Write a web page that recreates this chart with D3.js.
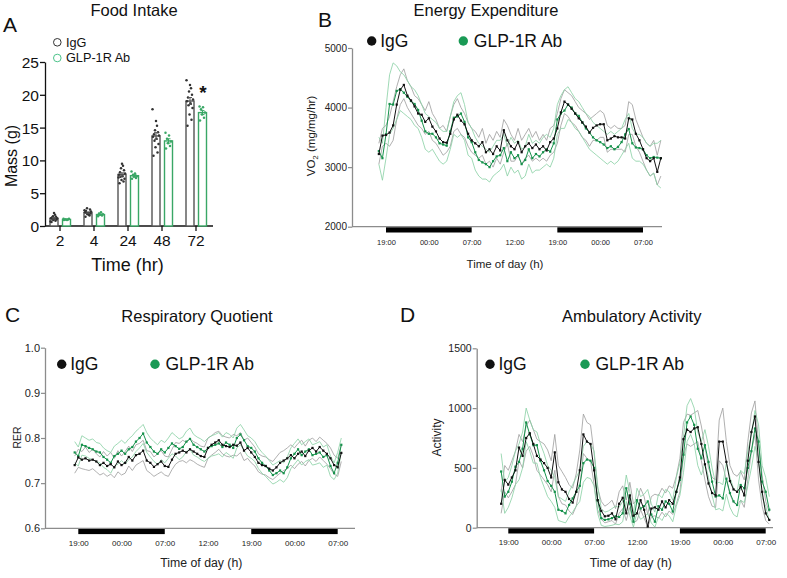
<!DOCTYPE html>
<html><head><meta charset="utf-8">
<script src="https://cdn.jsdelivr.net/npm/d3@7"></script>
<style>body{margin:0;background:#fff} svg{display:block} text{font-family:"Liberation Sans",Arial,sans-serif}</style>
</head><body>
<svg id="c" width="787" height="578"></svg>
<script>
// ---------- Panel A data ----------
const foodTimes = ["2","4","24","48","72"];
const foodIgG = [
  [0.6,0.8,0.9,1.0,1.0,1.1,1.2,1.2,1.3,1.4,1.5,1.7,2.0,0.7],
  [1.4,1.6,1.8,1.9,2.0,2.0,2.1,2.2,2.3,2.5,2.7,1.7,1.9,2.4],
  [6.5,6.8,7.0,7.2,7.5,7.6,7.8,8.0,8.2,8.5,8.8,9.2,9.5,7.4],
  [10.7,11.2,12.0,12.5,13.0,13.3,13.6,13.8,14.0,14.3,14.6,15.3,16.0,17.8],
  [15.3,16.2,17.0,18.0,18.4,18.7,19.0,19.3,19.6,20.0,20.5,21.0,21.5,22.2]
];
const foodGLP = [
  [0.9,1.0,1.0,1.1,1.0,0.9,1.1],
  [1.5,1.6,1.7,1.8,1.9,2.1,1.6],
  [7.2,7.3,7.5,7.6,7.8,8.0,8.3],
  [11.8,12.2,12.6,12.9,13.3,13.8,14.2],
  [16.1,16.5,17.0,17.3,17.8,18.1,18.2]
];
const massTicks = [0,5,10,15,20,25];

// ---------- time axis ----------
const timeTickHours = [19,25,31,37,43,49,55];
const timeTickLabels = ["19:00","00:00","07:00","12:00","19:00","00:00","07:00"];
const darkPeriods = [[19,31],[43,55]];

// ---------- Panel B: VO2 (every 0.5 h from 18:00) ----------
const vo2Start = 18;
const vo2IgG = [3220,3530,3540,3580,3700,4050,4300,4380,4200,4120,
 4020,3900,3880,3760,3820,3680,3600,3480,3420,3410,
 3560,3800,3880,3780,3720,3560,3450,3400,3350,3420,
 3250,3300,3220,3350,3280,3620,3450,3350,3300,3420,
 3250,3350,3400,3320,3380,3300,3350,3280,3420,3480,
 3650,3920,4100,4050,3980,3900,3820,3750,3680,3580,
 3660,3700,3720,3720,3450,3480,3520,3500,3500,3480,
 3820,3800,3560,3450,3300,3150,3100,3150,2920,3150];
const vo2GLP = [3270,3150,3550,4060,4050,4280,4310,4250,4180,4110,
 4060,3960,3780,3600,3560,3560,3500,3400,3380,3360,
 3600,3830,3850,3900,3760,3500,3420,3250,3120,3080,
 3050,3000,3100,3180,3200,3320,3100,3250,3150,3200,
 3050,3120,3300,3150,3220,3180,3250,3300,3260,3400,
 3800,3900,3950,4050,4000,3900,3860,3750,3650,3580,
 3500,3450,3420,3380,3320,3350,3300,3340,3420,3550,
 3640,3400,3330,3320,3300,3200,3150,3170,3160,3150];
const vo2IgGa = [3400,3650,3700,3850,4100,4350,4550,4650,4450,4350,
 4200,4150,4050,3950,4100,3900,3800,3650,3700,3600,
 3850,4050,4150,4000,3900,3750,3650,3600,3500,3650,
 3400,3550,3450,3600,3500,3800,3700,3550,3450,3650,
 3450,3550,3650,3500,3600,3450,3550,3450,3650,3700,
 3900,4150,4300,4250,4200,4100,4000,3950,3900,3800,
 3850,3900,3950,3900,3700,3650,3700,3650,3650,3700,
 4100,4050,3800,3650,3500,3400,3350,3450,3200,3450];
const vo2IgGb = [3050,3350,3400,3350,3450,3800,4050,4150,4000,3900,
 3800,3700,3650,3550,3600,3450,3400,3300,3200,3250,
 3350,3600,3650,3550,3500,3350,3250,3200,3150,3200,
 3050,3100,3000,3150,3050,3250,3400,3100,3100,3200,
 3050,3150,3200,3100,3150,3100,3150,3100,3200,3250,
 3400,3700,3900,3850,3750,3700,3600,3500,3450,3350,
 3450,3450,3500,3500,3250,3300,3300,3300,3300,3250,
 3550,3550,3350,3250,3100,2950,2850,2900,2700,2850];
const vo2GLPa = [3500,3400,4000,4550,4750,4700,4600,4550,4450,4350,
 4300,4200,4050,3900,3850,3800,3750,3650,3600,3600,
 3850,4100,4200,4250,4050,3750,3650,3500,3400,3350,
 3300,3250,3350,3450,3450,3550,3350,3500,3400,3450,
 3300,3350,3550,3400,3450,3400,3500,3550,3500,3650,
 4050,4200,4300,4350,4250,4150,4100,4000,3900,3850,
 3750,3700,3650,3600,3550,3600,3550,3600,3650,3800,
 3900,3650,3550,3550,3500,3400,3350,3400,3400,3450];
const vo2GLPb = [3050,2780,3150,3550,3650,3800,3950,3900,3850,3800,
 3700,3650,3500,3300,3250,3300,3200,3100,3050,3100,
 3300,3550,3500,3550,3450,3200,3150,2950,2850,2800,
 2800,2750,2850,2900,2950,3050,2850,3000,2900,2950,
 2800,2850,3050,2900,2950,2950,3000,3050,3000,3150,
 3550,3650,3650,3800,3750,3650,3600,3500,3400,3300,
 3250,3200,3150,3100,3050,3100,3050,3100,3200,3300,
 3400,3150,3100,3100,3050,2950,2850,2900,2700,2650];
const vo2Ticks = [2000,3000,4000,5000];

// ---------- Panel C: RER (every 0.5 h from 18:30) ----------
const rerStart = 18.5;
const rerIgG = [.740,.757,.752,.755,.750,.752,.748,.740,.745,.738,
 .742,.735,.748,.740,.745,.758,.750,.762,.765,.772,
 .750,.745,.736,.742,.748,.738,.736,.752,.765,.768,
 .772,.768,.775,.770,.765,.760,.758,.778,.785,.790,
 .795,.785,.782,.780,.785,.783,.790,.772,.778,.768,
 .758,.745,.740,.738,.732,.728,.735,.745,.750,.755,
 .762,.755,.765,.770,.760,.772,.778,.770,.780,.772,
 .765,.755,.740,.735,.767];
const rerGLP = [.768,.760,.785,.782,.778,.775,.770,.768,.758,.752,
 .745,.760,.765,.772,.765,.775,.780,.792,.800,.810,
 .790,.780,.770,.765,.775,.768,.778,.788,.782,.776,
 .780,.792,.798,.785,.780,.775,.770,.778,.782,.785,
 .788,.780,.790,.785,.778,.800,.808,.795,.782,.778,
 .770,.755,.745,.738,.728,.718,.722,.728,.722,.735,
 .755,.765,.775,.762,.770,.775,.762,.765,.768,.758,
 .762,.738,.722,.745,.785];
const rerIgGa = [.760,.775,.770,.780,.768,.775,.765,.758,.770,.760,
 .768,.755,.772,.760,.770,.782,.770,.785,.788,.795,
 .772,.770,.758,.765,.772,.760,.758,.775,.790,.788,
 .795,.790,.798,.792,.788,.782,.780,.800,.805,.812,
 .815,.805,.802,.800,.808,.805,.812,.795,.800,.790,
 .780,.765,.760,.758,.752,.748,.758,.768,.772,.778,
 .785,.778,.788,.795,.782,.795,.800,.792,.802,.795,
 .788,.778,.762,.755,.785];
const rerIgGb = [.722,.735,.732,.730,.728,.732,.725,.718,.722,.715,
 .720,.712,.725,.718,.722,.738,.728,.740,.745,.750,
 .728,.722,.715,.720,.725,.718,.715,.730,.742,.748,
 .750,.745,.752,.748,.742,.738,.735,.755,.762,.768,
 .775,.765,.760,.758,.762,.760,.768,.750,.755,.745,
 .738,.725,.720,.718,.712,.708,.715,.722,.728,.732,
 .740,.732,.742,.748,.738,.750,.755,.748,.758,.750,
 .742,.732,.720,.715,.748];
const rerGLPa = [.792,.780,.805,.800,.795,.798,.790,.788,.778,.772,
 .768,.782,.788,.795,.788,.798,.805,.815,.822,.830,
 .812,.800,.792,.785,.795,.790,.800,.812,.805,.798,
 .802,.815,.822,.808,.802,.798,.792,.800,.805,.808,
 .812,.802,.812,.808,.800,.822,.830,.818,.805,.800,
 .792,.778,.768,.760,.750,.740,.745,.750,.745,.758,
 .778,.788,.798,.785,.792,.798,.785,.788,.792,.780,
 .785,.760,.745,.768,.800];
const rerGLPb = [.745,.738,.762,.760,.755,.752,.748,.745,.735,.730,
 .722,.738,.742,.750,.742,.752,.758,.770,.778,.788,
 .768,.758,.748,.742,.752,.745,.755,.765,.760,.752,
 .758,.770,.775,.762,.758,.752,.748,.755,.760,.762,
 .765,.758,.768,.762,.755,.778,.785,.772,.760,.755,
 .748,.732,.722,.715,.706,.698,.702,.708,.702,.712,
 .732,.742,.752,.740,.748,.752,.740,.742,.745,.735,
 .740,.715,.708,.722,.770];
const rerTicks = [0.6,0.7,0.8,0.9,1.0];

// ---------- Panel D: ambulatory activity (every 0.5 h from 18:00) ----------
const actStart = 18;
const actIgG = [200,400,360,420,480,670,600,750,790,700,
 600,570,540,500,420,630,380,320,300,240,
 210,300,480,780,720,700,480,230,140,95,
 100,120,70,200,250,120,270,100,120,230,
 150,10,160,170,150,220,170,230,200,300,
 420,740,820,800,830,840,700,530,370,290,
 270,720,720,550,390,320,300,340,270,560,
 800,930,550,300,120,65];
const actGLP = [470,260,300,385,510,550,660,880,780,690,
 690,560,480,390,350,300,150,140,120,190,
 245,300,350,540,570,560,500,230,80,65,
 70,80,95,90,120,330,200,50,230,160,
 180,220,110,50,180,150,220,200,135,300,
 400,610,880,930,860,660,580,690,550,385,
 260,270,245,410,290,220,190,357,330,500,
 640,830,720,385,300,150];
const actIgGa = [300,520,480,560,640,780,720,850,900,820,
 740,720,700,650,560,780,520,470,420,360,
 330,450,650,950,880,860,620,330,220,180,
 200,230,160,300,350,230,380,200,230,330,
 260,110,260,280,270,330,290,350,330,430,
 580,880,950,940,960,980,850,680,500,420,
 400,900,1000,720,520,450,430,470,400,720,
 960,1060,700,440,220,130];
const actIgGb = [120,300,250,300,360,560,500,640,680,600,
 480,440,400,360,300,480,260,200,190,140,
 110,180,340,620,580,560,360,150,70,40,
 50,60,30,120,160,60,170,40,60,150,
 80,5,90,100,80,130,90,140,110,200,
 300,600,700,680,700,720,560,400,260,180,
 170,560,520,400,280,210,190,230,170,400,
 640,780,400,180,60,30];
const actGLPa = [620,380,420,520,640,700,800,1000,900,820,
 800,700,620,520,480,420,260,240,220,300,
 360,420,480,680,720,700,640,350,160,130,
 140,160,180,170,220,440,300,120,330,260,
 280,320,200,130,280,250,320,300,230,420,
 540,760,1020,1080,1000,800,720,820,680,500,
 370,380,360,540,420,330,300,480,450,640,
 780,980,860,520,420,260];
const actGLPb = [320,120,170,250,360,400,500,720,640,540,
 540,420,340,260,220,170,60,50,40,90,
 130,180,220,380,420,410,350,120,20,10,
 15,20,30,25,50,220,100,5,130,70,
 90,120,40,5,90,60,120,100,50,180,
 270,460,720,780,700,520,440,540,420,270,
 150,160,140,280,170,110,90,230,210,350,
 500,680,580,250,180,60];
const actTicks = [0,500,1000,1500];

// ---------- styles ----------
const COL_IGG = "#111";
const COL_GLP = "#17924c";
const COL_IGG_THIN = "#9c9c9c";
const COL_GLP_THIN = "#86cfa2";
const AXIS_GRAY = "#8c8c8c";

const svg = d3.select("#c");

// ================= Panel A =================
(function(){
  const g = svg.append("g");
  const x = d3.scaleBand().domain(foodTimes).range([43, 213]);
  const y = d3.scaleLinear().domain([0,25]).range([226, 62]);
  const ya = g.append("g").attr("transform","translate(45,0)")
    .call(d3.axisLeft(y).tickValues(massTicks).tickSize(5).tickSizeOuter(0));
  ya.select(".domain").attr("stroke","#111").attr("stroke-width",1.3);
  ya.selectAll(".tick line").attr("stroke","#111").attr("stroke-width",1.3);
  ya.selectAll("text").attr("font-size",15.5).attr("fill","#111").attr("x",-6).attr("dy","0.36em");
  const xa = g.append("g").attr("transform","translate(0,226)")
    .call(d3.axisBottom(x).tickSize(5).tickSizeOuter(0));
  xa.select(".domain").remove();
  xa.selectAll(".tick line").attr("stroke","#111").attr("stroke-width",1.3);
  xa.selectAll("text").attr("font-size",15.5).attr("fill","#111").attr("y",9).attr("dy","0.71em");
  g.append("line").attr("x1",45).attr("x2",213).attr("y1",226).attr("y2",226).attr("stroke","#111").attr("stroke-width",1.3);

  const jit = [-2.5,1.5,-0.5,2.5,-1.5,0.5,-3,3,-2,2,-1,1,0,-3.5];
  const groups = [{data:foodIgG, off:-6, stroke:"#555", pt:"#333"},
                  {data:foodGLP, off:6.5, stroke:"#3aa766", pt:"#3aa766"}];
  groups.forEach(gr => {
    foodTimes.forEach((t,i) => {
      const vals = gr.data[i];
      const m = d3.mean(vals);
      const se = d3.deviation(vals)/Math.sqrt(vals.length);
      const cx = x(t) + x.bandwidth()/2 + gr.off;
      g.append("rect").attr("x",cx-4).attr("width",8).attr("y",y(m)).attr("height",y(0)-y(m))
        .attr("fill","#fff").attr("stroke",gr.stroke).attr("stroke-width",1.4);
      vals.forEach((v,k) => g.append("circle").attr("cx",cx+jit[k%jit.length]).attr("cy",y(v)).attr("r",1.25).attr("fill",gr.pt));
      g.append("line").attr("x1",cx).attr("x2",cx).attr("y1",y(m-se)).attr("y2",y(m+se)).attr("stroke",gr.stroke).attr("stroke-width",1);
      [m-se,m+se].forEach(v=>g.append("line").attr("x1",cx-2).attr("x2",cx+2).attr("y1",y(v)).attr("y2",y(v)).attr("stroke",gr.stroke).attr("stroke-width",1));
    });
  });
  const c72 = x("72") + x.bandwidth()/2 + 7;
  g.append("text").attr("x",c72).attr("y",y(19.3)).attr("text-anchor","middle").attr("font-size",19).attr("font-weight","bold").attr("fill","#111").text("*");

  g.append("text").attr("x",134).attr("y",15.5).attr("text-anchor","middle").attr("font-size",16.5).attr("fill","#111").text("Food Intake");
  g.append("text").attr("x",3).attr("y",32).attr("font-size",21).attr("fill","#111").text("A");
  g.append("text").attr("transform","translate(17,156) rotate(-90)").attr("text-anchor","middle").attr("font-size",16).attr("fill","#111").text("Mass (g)");
  g.append("text").attr("x",127.5).attr("y",271).attr("text-anchor","middle").attr("font-size",18).attr("fill","#111").text("Time (hr)");
  g.append("circle").attr("cx",57.3).attr("cy",42.3).attr("r",3.8).attr("fill","none").attr("stroke","#333").attr("stroke-width",1);
  g.append("text").attr("x",66).attr("y",46.5).attr("font-size",12.7).attr("fill","#111").text("IgG");
  g.append("circle").attr("cx",57.3).attr("cy",58).attr("r",3.8).attr("fill","none").attr("stroke","#4cc38a").attr("stroke-width",1);
  g.append("text").attr("x",66).attr("y",62.2).attr("font-size",12.7).attr("fill","#111").text("GLP-1R Ab");
})();

// ================= time-course panels =================
function timePanel(o){
  const g = svg.append("g");
  const x = d3.scaleLinear().domain([19,55]).range(o.xr);
  const y = d3.scaleLinear().domain(o.yd).range(o.yr);
  // dark bars
  darkPeriods.forEach(p => g.append("rect").attr("x",x(p[0])).attr("width",x(p[1])-x(p[0]))
    .attr("y",o.yr[0]+0.5).attr("height",5.3).attr("fill","#000"));
  // y axis
  const ya = g.append("g").attr("transform",`translate(${o.ax},0)`)
    .call(d3.axisLeft(y).tickValues(o.yt).tickSize(4).tickSizeOuter(0).tickFormat(o.yf));
  ya.select(".domain").attr("stroke",AXIS_GRAY).attr("stroke-width",1.3);
  ya.selectAll(".tick line").attr("stroke",AXIS_GRAY).attr("stroke-width",1.2);
  ya.selectAll("text").attr("font-size",o.ytf).attr("fill","#222").attr("x",-5);
  g.append("line").attr("x1",o.ax).attr("x2",o.xend).attr("y1",o.yr[0]).attr("y2",o.yr[0]).attr("stroke",AXIS_GRAY).attr("stroke-width",1.3);
  // x tick labels
  const xa = g.append("g").attr("transform",`translate(0,${o.tly})`)
    .call(d3.axisBottom(x).tickValues(timeTickHours).tickSize(0).tickFormat((d,i)=>timeTickLabels[i]));
  xa.select(".domain").remove();
  xa.selectAll("text").attr("font-size",o.xtf).attr("fill","#222").attr("y",0).attr("dy",0);
  // series
  const line = d3.line().x((d,i)=>x(o.t0 + i*0.5)).y(d=>y(d));
  [[o.s.ia,COL_IGG_THIN],[o.s.ib,COL_IGG_THIN],[o.s.ga,COL_GLP_THIN],[o.s.gb,COL_GLP_THIN]].forEach(([arr,c]) =>
    g.append("path").attr("d",line(arr)).attr("fill","none").attr("stroke",c).attr("stroke-width",0.8));
  [[o.s.g,COL_GLP],[o.s.i,COL_IGG]].forEach(([arr,c]) => {
    g.append("path").attr("d",line(arr)).attr("fill","none").attr("stroke",c).attr("stroke-width",1);
    g.selectAll(null).data(arr).enter().append("rect")
      .attr("x",(d,i)=>x(o.t0+i*0.5)-1.1).attr("y",d=>y(d)-1.1).attr("width",2.2).attr("height",2.2).attr("fill",c);
  });
  // texts
  g.append("text").attr("x",o.title[0]).attr("y",o.title[1]).attr("text-anchor","middle").attr("font-size",16.5).attr("fill","#111").text(o.title[2]);
  g.append("text").attr("x",o.letter[0]).attr("y",o.letter[1]).attr("font-size",21).attr("fill","#111").text(o.letter[2]);
  g.append("text").attr("x",o.xt[0]).attr("y",o.xt[1]).attr("text-anchor","middle").attr("font-size",o.xtitlef).attr("fill","#222").text("Time of day (h)");
  const yl = g.append("text").attr("transform",`translate(${o.yl[0]},${o.yl[1]}) rotate(-90)`).attr("text-anchor","middle").attr("font-size",o.ylf).attr("fill","#222");
  if (o.sub) { yl.append("tspan").text("VO"); yl.append("tspan").attr("font-size",o.ylf*0.7).attr("dy",3).text("2"); yl.append("tspan").attr("dy",-3).text(" (mg/mg/hr)"); }
  else yl.text(o.yl[2]);
  // legend
  g.append("circle").attr("cx",o.lg[0]).attr("cy",o.lg[1]).attr("r",4.7).attr("fill",COL_IGG);
  g.append("text").attr("x",o.lg[0]+8.5).attr("y",o.lg[1]+6).attr("font-size",17.5).attr("fill","#111").text("IgG");
  g.append("circle").attr("cx",o.lg[2]).attr("cy",o.lg[1]).attr("r",4.7).attr("fill","#1a9a55");
  g.append("text").attr("x",o.lg[2]+10.5).attr("y",o.lg[1]+6).attr("font-size",17.5).attr("fill","#111").text("GLP-1R Ab");
}

timePanel({xr:[386,643], yd:[2000,5000], yr:[226.7,48], ax:352, xend:662, yt:vo2Ticks, yf:d3.format("d"), ytf:10,
  tly:245, xtf:7.5, t0:vo2Start,
  s:{i:vo2IgG,g:vo2GLP,ia:vo2IgGa,ib:vo2IgGb,ga:vo2GLPa,gb:vo2GLPb},
  title:[486,16,"Energy Expenditure"], letter:[318,27,"B"], xt:[505,268], xtitlef:11.5,
  yl:[315,136,""], ylf:11.5, sub:true, lg:[371.7,41,463.3]});

timePanel({xr:[78.3,337.7], yd:[0.6,1.0], yr:[528.3,347.7], ax:45, xend:355, yt:rerTicks, yf:d3.format(".1f"), ytf:11,
  tly:545.5, xtf:8, t0:rerStart,
  s:{i:rerIgG,g:rerGLP,ia:rerIgGa,ib:rerIgGb,ga:rerGLPa,gb:rerGLPb},
  title:[197,321.7,"Respiratory Quotient"], letter:[5,321.7,"C"], xt:[201.3,566.7], xtitlef:12.3,
  yl:[20.5,437.5,"RER"], ylf:10.5, sub:false, lg:[61.7,364.3,155]});

timePanel({xr:[508.3,765.7], yd:[0,1500], yr:[527.7,348.3], ax:476.7, xend:773, yt:actTicks, yf:d3.format("d"), ytf:10.5,
  tly:545, xtf:8, t0:actStart,
  s:{i:actIgG,g:actGLP,ia:actIgGa,ib:actIgGb,ga:actGLPa,gb:actGLPb},
  title:[631.7,321.7,"Ambulatory Activity"], letter:[400,321.7,"D"], xt:[630.8,566.7], xtitlef:12.3,
  yl:[441,437.5,"Activity"], ylf:12, sub:false, lg:[490,364.3,585]});
</script>
</body></html>
